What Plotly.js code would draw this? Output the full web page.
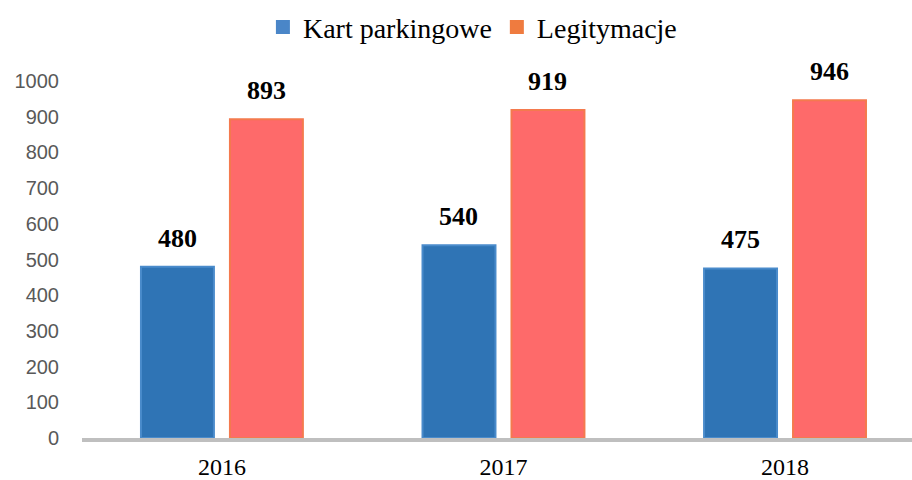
<!DOCTYPE html>
<html>
<head>
<meta charset="utf-8">
<script src="https://cdn.plot.ly/plotly-3.0.1.min.js"></script>
<style>html,body{margin:0;padding:0;background:#fff;}#chart{width:912px;height:480px;}</style>
</head>
<body>
<div id="chart"></div>
<script>
const years = ['2016', '2017', '2018'];
const seriesNames = ['Kart parkingowe', 'Legitymacje'];
const kartParkingowe = [480, 540, 475];
const legitymacje = [893, 919, 946];
const yTicks = [0, 100, 200, 300, 400, 500, 600, 700, 800, 900, 1000];

const barColors = ['#2F74B5', '#FE6A6A'];
const barEdges = ['#4A8BCB', '#F47A4E'];
const legendColors = ['#4A86C8', '#EF7B3F'];
const seriesValues = [kartParkingowe, legitymacje];

const traces = [];
seriesValues.forEach((vals, i) => {
  traces.push({
    type: 'bar', x: years, y: vals, name: seriesNames[i], showlegend: false,
    marker: {color: barColors[i], line: {color: barEdges[i], width: 2}},
    hoverinfo: 'x+y'
  });
});
seriesValues.forEach((vals, i) => {
  traces.push({
    type: 'scatter', mode: 'markers', x: [null], y: [null], name: seriesNames[i],
    marker: {symbol: 'square', size: 14, color: legendColors[i]}, hoverinfo: 'skip'
  });
});

const annotations = [];
const groupShift = 44.5;
seriesValues.forEach((vals, i) => {
  vals.forEach((v, j) => {
    annotations.push({
      x: j, y: v, xref: 'x', yref: 'y', text: '<b>' + v + '</b>', showarrow: false,
      xanchor: 'center', yanchor: 'bottom', xshift: (i === 0 ? -groupShift : groupShift), yshift: 12,
      font: {family: 'Liberation Serif, Times New Roman, serif', size: 26, color: '#000'}
    });
  });
});

const layout = {
  width: 912, height: 480,
  margin: {l: 82, r: 0, t: 81, b: 42, pad: 0},
  paper_bgcolor: '#fff', plot_bgcolor: '#fff',
  barmode: 'group', bargap: 0.368, bargroupgap: 0.18,
  showlegend: true,
  legend: {orientation: 'h', x: 0.518, xref: 'container', xanchor: 'center',
    y: 0.943, yref: 'container', yanchor: 'middle',
    font: {family: 'Liberation Serif, Times New Roman, serif', size: 28, color: '#000'},
    itemclick: false, tracegroupgap: 0},
  xaxis: {type: 'category', range: [-0.497, 2.451], showgrid: false, zeroline: false,
    showline: true, linecolor: '#BFBFBF', linewidth: 4, ticks: '',
    tickfont: {family: 'Liberation Serif, Times New Roman, serif', size: 24, color: '#000'},
    ticklabelstandoff: 4},
  yaxis: {range: [0, 1000], tickvals: yTicks, showgrid: false, zeroline: false, showline: false,
    ticks: '', ticklabelstandoff: 22,
    tickfont: {family: 'Liberation Sans, Arial, sans-serif', size: 20, color: '#595959'}},
  annotations: annotations
};

Plotly.newPlot('chart', traces, layout, {displayModeBar: false, staticPlot: true});
</script>
</body>
</html>
